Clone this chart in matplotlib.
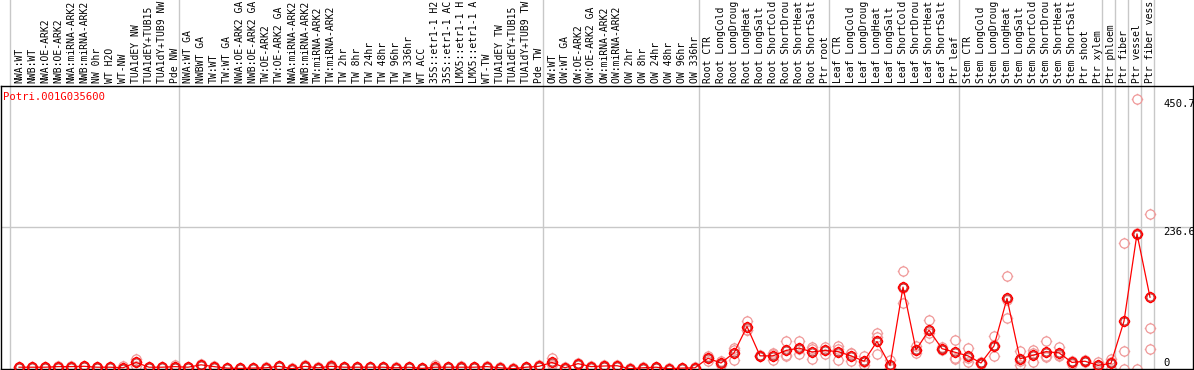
import numpy as np
import matplotlib
matplotlib.use("Agg")
import matplotlib.pyplot as plt
from matplotlib.path import Path
from matplotlib.transforms import blended_transform_factory

gene = "Potri.001G035600"

labels_nw = ["NWA:WT", "NWB:WT", "NWA:OE-ARK2", "NWB:OE-ARK2", "NWA:miRNA-ARK2",
             "NWB:miRNA-ARK2", "NW 0hr", "WT H2O", "WT-NW", "TUA1dEY NW",
             "TUA1dEY+TUB15 NW", "TUA1dY+TUB9 NW", "Pde NW"]
labels_tw = ["NWA:WT GA", "NWBWT GA", "TW:WT", "TW:WT GA", "NWA:OE-ARK2 GA",
             "NWB:OE-ARK2 GA", "TW:OE-ARK2", "TW:OE-ARK2 GA", "NWA:miRNA-ARK2 GA",
             "NWB:miRNA-ARK2 GA", "TW:miRNA-ARK2", "TW:miRNA-ARK2 GA", "TW 2hr",
             "TW 8hr", "TW 24hr", "TW 48hr", "TW 96hr", "TW 336hr", "WT ACC",
             "35S::etr1-1 H2O", "35S::etr1-1 ACC", "LMX5::etr1-1 H2O",
             "LMX5::etr1-1 ACC", "WT-TW", "TUA1dEY TW", "TUA1dEY+TUB15 TW",
             "TUA1dY+TUB9 TW", "Pde TW"]
labels_ow = ["OW:WT", "OW:WT GA", "OW:OE-ARK2", "OW:OE-ARK2 GA", "OW:miRNA-ARK2",
             "OW:miRNA-ARK2 GA", "OW 2hr", "OW 8hr", "OW 24hr", "OW 48hr",
             "OW 96hr", "OW 336hr"]
stress = ["CTR", "LongCold", "LongDrought", "LongHeat", "LongSalt",
          "ShortCold", "ShortDrought", "ShortHeat", "ShortSalt"]
labels_root = ["Root " + s for s in stress] + ["Ptr root"]
labels_leaf = ["Leaf " + s for s in stress] + ["Ptr leaf"]
labels_stem = ["Stem " + s for s in stress] + ["Ptr shoot", "Ptr xylem"]
labels_ptr = ["Ptr phloem", "Ptr fiber", "Ptr vessel", "Ptr fiber vessel"]

groups = [labels_nw, labels_tw, labels_ow, labels_root, labels_leaf,
          labels_stem, ["Ptr phloem"], ["Ptr fiber"], ["Ptr vessel"],
          ["Ptr fiber vessel"]]
labels = labels_nw + labels_tw + labels_ow + labels_root + labels_leaf + labels_stem + labels_ptr

means = [3, 3, 3, 4, 4, 4.5, 3, 3, 2, 11, 3, 3, 4,
         3, 7, 4, 1.5, 1, 1.5, 2, 4.5, 0.5, 4.5, 2, 4.5, 3, 3, 3, 3, 2, 3, 1,
         3, 3, 3, 3, 4, 2, 0.5, 3, 4.5,
         11, 2, 9, 4, 5, 5.5, 0.5, 2, 3, 0.5, 1.5, 2,
         18, 10, 27, 71, 22, 22, 31, 35, 28.5, 31,
         29, 22, 13, 46, 6, 137, 32, 65, 34, 28,
         22, 10, 38.5, 118, 17, 23, 29, 27, 11, 13, 6,
         9.5, 80, 226, 120]

reps = [[2, 3, 4], [3, 3, 3], [2, 3, 4], [3, 4, 5], [3, 4, 5], [4, 4.5, 5],
        [2, 3, 4], [3, 3, 3], [0.5, 1, 5], [17, 11, 5], [2, 3, 4], [3, 3, 3],
        [2, 4, 6],
        [2, 3, 4], [6, 7, 8], [3, 4, 5], [1, 1.5, 2], [0.5, 1, 1.5], [1, 1.5, 2],
        [1, 2, 3], [4, 4.5, 5], [0, 0.5, 1], [3, 4.5, 6], [1, 2, 3], [2, 4.5, 7],
        [2, 3, 4], [2, 3, 4], [3, 3, 3], [2, 3, 4], [1, 2, 3], [2, 3, 4],
        [0.5, 1, 1.5], [0.5, 1, 7.5], [2, 3, 4], [2, 3, 5], [2, 3, 4], [3, 4, 5],
        [1, 2, 3], [0, 0.5, 1], [2, 3, 4], [3, 4.5, 6],
        [18, 9, 6], [1, 2, 3], [8, 9, 10], [3, 4, 5], [4, 5, 6], [5, 5.5, 6],
        [0, 0.5, 1], [1, 2, 3], [2, 3, 4], [0, 0.5, 1], [1, 1.5, 2], [1, 2, 3],
        [22, 18, 14], [13, 10, 7], [35, 31, 15], [81, 66, 66], [23, 22, 21],
        [25, 26, 15], [47, 24, 22], [47, 33, 25], [33, 36, 16], [37, 31, 25],
        [38.5, 33, 15], [26, 26, 14], [21, 11, 7], [60, 53, 25], [15, 2, 1],
        [164, 136, 111], [38, 32, 26], [82, 61, 52], [37, 34, 31], [48.5, 18, 17.5],
        [35, 19, 12], [12, 10, 8], [55, 40, 21], [155, 115, 85], [30, 14, 7],
        [31, 27, 11], [47, 20, 21], [37, 23, 21], [14, 11, 8], [15, 13, 11],
        [12, 5, 1],
        [16, 12, 0.5], [210, 30, 0], [450.7, 0, 227], [260, 68, 33]]

ymax = 473.2
max_val = 450.7
label_chars = 14   # the header only has room for this many

# circle with four little ticks, like the old perl plots
circ = Path.unit_circle()
t0, t1 = 1.0, 1.25
ticks = Path([(0, t0), (0, t1), (0, -t0), (0, -t1), (t0, 0), (t1, 0), (-t0, 0), (-t1, 0)],
             [Path.MOVETO, Path.LINETO] * 4)
tick_circle = Path.make_compound_path(circ, ticks)
msize = 8.3

W, H = 1194, 370
fig = plt.figure(figsize=(W / 100, H / 100), dpi=100)
plt.rcParams["font.family"] = "DejaVu Sans Mono"

top_px, bot_px, left_px, right_px = 86, 369, 1, 1193
ax = fig.add_axes([left_px / W, (H - bot_px) / H, (right_px - left_px) / W, (bot_px - top_px) / H])

x0_px, step = 19, 13
ax.set_xlim((left_px - x0_px) / step, (right_px - x0_px) / step)
ax.set_ylim(0, ymax)
ax.set_xticks([])
ax.set_yticks([])
for s in ax.spines.values():
    s.set_color("black")
    s.set_linewidth(1.0)

x = np.arange(len(labels))

# group separators, running up through the label area
trans = blended_transform_factory(ax.transData, ax.transAxes)
extra = bot_px / (bot_px - top_px) + 0.05
bounds = np.cumsum([0] + [len(g) for g in groups])
for b in bounds:
    ax.plot([b - 9 / step, b - 9 / step], [0, extra], transform=trans,
            color="#c8c8c8", lw=1.0, clip_on=False, zorder=1)

ax.axhline(ymax / 2, color="#c8c8c8", lw=1.0, zorder=1)

# replicates
for i, r in enumerate(reps):
    ax.plot([i] * len(r), r, linestyle="none", marker=tick_circle, markersize=msize,
            markerfacecolor="none", markeredgecolor="#f09a9a", markeredgewidth=0.9,
            zorder=2)

ax.plot(x, means, color="#ff0000", lw=0.9, zorder=3)
ax.plot(x, means, linestyle="none", marker=tick_circle, markersize=msize,
        markerfacecolor="none", markeredgecolor="#ff0000", markeredgewidth=1.1, zorder=4)
ax.plot(x, means, linestyle="none", marker="o", markersize=5.0,
        markerfacecolor="none", markeredgecolor="#990000", markeredgewidth=0.45, zorder=5)

# sample labels
label_y = 1.0 + 3 / (bot_px - top_px)
for i, lab in enumerate(labels):
    ax.text(i, label_y, lab[:label_chars], transform=trans, rotation=90,
            ha="center", va="bottom", fontsize=7.0, color="black", clip_on=False)

ax.text(3 / W, (H - 92) / H, gene, transform=fig.transFigure, ha="left", va="top",
        fontsize=7.6, color="#ff0000")

# value labels on the right
lx = (1163 - x0_px) / step
ax.text(lx, max_val, "%.1f" % max_val, ha="left", va="top", fontsize=7.6)
ax.text(lx, ymax / 2, "%.1f" % (ymax / 2), ha="left", va="top", fontsize=7.6)
ax.text(lx, 2, "0", ha="left", va="bottom", fontsize=7.6)

fig.savefig("out.png", dpi=100)
